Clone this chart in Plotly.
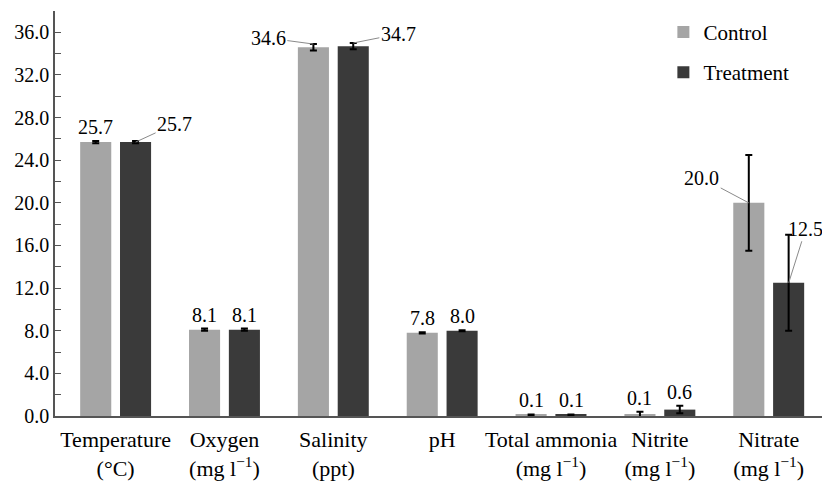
import plotly.graph_objects as go

categories = ["Temperature<br>(°C)", "Oxygen<br>(mg l<sup>−1</sup>)", "Salinity<br>(ppt)", "pH",
              "Total ammonia<br>(mg l<sup>−1</sup>)", "Nitrite<br>(mg l<sup>−1</sup>)", "Nitrate<br>(mg l<sup>−1</sup>)"]
control = [25.7, 8.1, 34.6, 7.8, 0.1, 0.1, 20.0]
treatment = [25.7, 8.1, 34.7, 8.0, 0.1, 0.6, 12.5]
control_err = [0.1, 0.1, 0.3, 0.05, 0.05, 0.3, 4.5]
treatment_err = [0.1, 0.1, 0.3, 0.05, 0.05, 0.35, 4.5]

FONT = "Liberation Serif"
C_CTRL = "#a5a5a5"
C_TRT = "#3a3a3a"

fig = go.Figure()
fig.add_trace(go.Bar(name="Control", x=categories, y=control, marker_color=C_CTRL,
                     marker_line_width=0, legendgroup="c",
                     error_y=dict(type="data", array=control_err, color="black", thickness=2, width=3.5)))
fig.add_trace(go.Bar(name="Treatment", x=categories, y=treatment, marker_color=C_TRT,
                     marker_line_width=0, legendgroup="t",
                     error_y=dict(type="data", array=treatment_err, color="black", thickness=2, width=3.5)))

# leader-line labels: (series index, category index) -> (ax, ay)
leader = {(0, 2): (-45, -6), (1, 2): (45, -9), (1, 0): (39, -18), (0, 6): (-47, -25), (1, 6): (17, -54)}
series = [(control, control_err, -20), (treatment, treatment_err, 20)]
annotations = []
for s, (vals, errs, xs) in enumerate(series):
    for i, v in enumerate(vals):
        txt = f"{v:.1f}"
        if (s, i) in leader:
            ax, ay = leader[(s, i)]
            top = v + errs[i] if i == 2 else v
            annotations.append(dict(x=categories[i], y=top, xshift=xs, text=txt, showarrow=True,
                                    arrowhead=0, arrowwidth=1, arrowcolor="#8a8a8a", ax=ax, ay=ay,
                                    font=dict(family=FONT, size=20, color="black")))
        else:
            annotations.append(dict(x=categories[i], y=v + errs[i], xshift=xs, yshift=1, text=txt,
                                    showarrow=False, yanchor="bottom",
                                    font=dict(family=FONT, size=20, color="black")))

fig.update_layout(
    width=822, height=473,
    margin=dict(l=47, r=0, t=3, b=65, autoexpand=False),
    paper_bgcolor="white", plot_bgcolor="white",
    barmode="group", bargap=0.268, bargroupgap=0.22,
    font=dict(family=FONT, size=20, color="black"),
    legend=dict(x=0.785, y=0.998, xanchor="left", yanchor="top", bgcolor="rgba(0,0,0,0)",
                tracegroupgap=10, itemwidth=30, font=dict(family=FONT, size=21)),
    annotations=annotations,
    showlegend=True,
)
fig.update_xaxes(range=[-0.557, 6.563], showline=True, linecolor="#555", linewidth=1.5,
                 ticks="", showgrid=False, automargin=False, ticklabelstandoff=3,
                 tickfont=dict(family=FONT, size=22))
fig.update_yaxes(range=[0, 38], dtick=4, tick0=0, tickformat=".1f", ticks="inside", ticklen=6,
                 tickcolor="#555", showline=True, linecolor="#555", linewidth=1.5, showgrid=False,
                 zeroline=False, automargin=False, tickfont=dict(family=FONT, size=20),
                 minor=dict(dtick=2, ticks="inside", ticklen=6, tickcolor="#555", showgrid=False))

fig.write_html("out.html")
